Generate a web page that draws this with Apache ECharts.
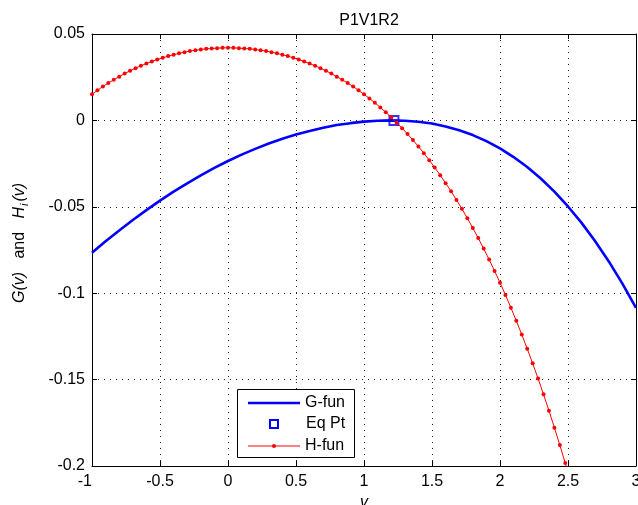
<!DOCTYPE html>
<html>
<head>
<meta charset="utf-8">
<script src="https://cdn.jsdelivr.net/npm/echarts@6/dist/echarts.min.js"></script>
<style>
  html, body { margin: 0; padding: 0; background: #fff; }
  #chart { width: 638px; height: 505px; }
</style>
</head>
<body>
<div id="chart"></div>
<script>
// G(v): smooth curve sampled every 0.1 in v
const gX = [-1.0, -0.9, -0.8, -0.7, -0.6, -0.5, -0.4, -0.3, -0.2, -0.1,
            0.0, 0.1, 0.2, 0.3, 0.4, 0.5, 0.6, 0.7, 0.8, 0.9,
            1.0, 1.1, 1.2, 1.3, 1.4, 1.5, 1.6, 1.7, 1.8, 1.9,
            2.0, 2.1, 2.2, 2.3, 2.4, 2.5, 2.6, 2.7, 2.8, 2.9, 3.0];
const gY = [-0.0766, -0.0700, -0.0637, -0.0576, -0.0519, -0.0464, -0.0412, -0.0364, -0.0318, -0.0275,
            -0.0235, -0.0198, -0.0165, -0.0134, -0.0106, -0.0082, -0.0061, -0.0042, -0.0027, -0.0016,
            -0.0007, -0.0002, 0.0000, -0.0002, -0.0008, -0.0018, -0.0035, -0.0057, -0.0085, -0.0120,
            -0.0162, -0.0212, -0.0270, -0.0336, -0.0412, -0.0498, -0.0593, -0.0699, -0.0816, -0.0945, -0.1085];

// H(v): sampled every 0.04 in v, one marker per sample
const hX = [-1.00, -0.96, -0.92, -0.88, -0.84, -0.80, -0.76, -0.72, -0.68, -0.64,
            -0.60, -0.56, -0.52, -0.48, -0.44, -0.40, -0.36, -0.32, -0.28, -0.24,
            -0.20, -0.16, -0.12, -0.08, -0.04, 0.00, 0.04, 0.08, 0.12, 0.16,
            0.20, 0.24, 0.28, 0.32, 0.36, 0.40, 0.44, 0.48, 0.52, 0.56,
            0.60, 0.64, 0.68, 0.72, 0.76, 0.80, 0.84, 0.88, 0.92, 0.96,
            1.00, 1.04, 1.08, 1.12, 1.16, 1.20, 1.24, 1.28, 1.32, 1.36,
            1.40, 1.44, 1.48, 1.52, 1.56, 1.60, 1.64, 1.68, 1.72, 1.76,
            1.80, 1.84, 1.88, 1.92, 1.96, 2.00, 2.04, 2.08, 2.12, 2.16,
            2.20, 2.24, 2.28, 2.32, 2.36, 2.40, 2.44, 2.48, 2.52];
const hY = [0.0151, 0.0174, 0.0196, 0.0216, 0.0235, 0.0253, 0.0271, 0.0287, 0.0302, 0.0316,
            0.0329, 0.0341, 0.0352, 0.0362, 0.0372, 0.0380, 0.0388, 0.0395, 0.0401, 0.0406,
            0.0410, 0.0414, 0.0416, 0.0418, 0.0420, 0.0420, 0.0420, 0.0418, 0.0416, 0.0414,
            0.0410, 0.0406, 0.0401, 0.0395, 0.0388, 0.0380, 0.0372, 0.0362, 0.0352, 0.0341,
            0.0329, 0.0316, 0.0302, 0.0287, 0.0271, 0.0253, 0.0235, 0.0216, 0.0196, 0.0174,
            0.0151, 0.0127, 0.0102, 0.0075, 0.0047, 0.0018, -0.0013, -0.0045, -0.0079, -0.0114,
            -0.0151, -0.0190, -0.0230, -0.0273, -0.0317, -0.0363, -0.0410, -0.0460, -0.0512, -0.0566,
            -0.0623, -0.0681, -0.0742, -0.0805, -0.0871, -0.0939, -0.1010, -0.1084, -0.1160, -0.1239,
            -0.1321, -0.1406, -0.1494, -0.1585, -0.1680, -0.1778, -0.1879, -0.1983, -0.2092];

// Equilibrium point
const eqX = [1.22];
const eqY = [0.0];

// Axis ranges and tick steps
const xRange = [-1, 3];
const xStep = 0.5;
const yRange = [-0.2, 0.05];
const yStep = 0.05;

const titleText = 'P1V1R2';
const legendNames = ['G-fun', 'Eq Pt', 'H-fun'];

const zip = (xs, ys) => xs.map((x, i) => [x, ys[i]]);

const FONT = '"Liberation Sans", Arial, Helvetica, sans-serif';
const BLUE = '#0000ff';
const RED = '#ff0000';

const dotted = { color: '#222', width: 1, type: [1, 5] };

function tickAxis(base, extra) {
  return Object.assign({
    type: 'value',
    axisLine: { show: true, onZero: false, lineStyle: { color: '#000', width: 1 } },
    axisTick: { show: true, inside: true, length: 5, lineStyle: { color: '#000', width: 1 } },
    splitLine: { show: false },
    axisLabel: { show: false }
  }, base, extra);
}

const xBase = { min: xRange[0], max: xRange[1], interval: xStep };
const yBase = { min: yRange[0], max: yRange[1], interval: yStep };

const chart = echarts.init(document.getElementById('chart'), null, { renderer: 'canvas' });

chart.setOption({
  backgroundColor: '#fff',
  animation: false,
  title: {
    text: titleText,
    left: 364,
    top: 8,
    textAlign: 'center',
    textStyle: { fontFamily: FONT, fontSize: 16, fontWeight: 'normal', color: '#000' }
  },
  grid: {
    left: 92, top: 34, width: 544, height: 432,
    containLabel: false, outerBoundsMode: 'none', show: false
  },
  xAxis: [
    tickAxis(xBase, {
      position: 'bottom',
      splitLine: { show: true, lineStyle: dotted },
      axisLabel: {
        show: true, margin: 8, color: '#000', fontFamily: FONT, fontSize: 16,
        showMinLabel: true, showMaxLabel: true, alignMinLabel: 'right'
      },
      name: 'v',
      nameLocation: 'middle',
      nameGap: 27,
      nameTextStyle: { fontFamily: FONT, fontSize: 16, fontStyle: 'italic', color: '#000' }
    }),
    tickAxis(xBase, { position: 'top' })
  ],
  yAxis: [
    tickAxis(yBase, {
      position: 'left',
      splitLine: { show: true, lineStyle: dotted },
      axisLabel: {
        show: true, margin: 7, color: '#000', fontFamily: FONT, fontSize: 16,
        showMinLabel: true, showMaxLabel: true
      },
      name: '{it|G(v)}{up|   and   }{it|H}{sub|i}{it|(v)}',
      nameLocation: 'middle',
      nameGap: 62,
      nameRotate: 90,
      nameTextStyle: {
        color: '#000',
        padding: [0, 0, 0, 14],
        rich: {
          it: { fontFamily: FONT, fontSize: 16, fontStyle: 'italic', color: '#000', lineHeight: 20 },
          up: { fontFamily: FONT, fontSize: 16, color: '#000', lineHeight: 20 },
          sub: { fontFamily: FONT, fontSize: 11, fontStyle: 'italic', color: '#000',
                 lineHeight: 20, verticalAlign: 'bottom', padding: [6, 2, 0, 1] }
        }
      }
    }),
    tickAxis(yBase, { position: 'right' })
  ],
  series: [
    {
      name: legendNames[0],
      type: 'line',
      data: zip(gX, gY),
      showSymbol: false,
      symbol: 'none',
      clip: true,
      lineStyle: { color: BLUE, width: 2.6 },
      z: 2
    },
    {
      name: legendNames[1],
      type: 'scatter',
      data: zip(eqX, eqY),
      symbol: 'rect',
      symbolSize: 9,
      itemStyle: { color: 'rgba(0,0,0,0)', borderColor: BLUE, borderWidth: 2 },
      z: 3
    },
    {
      name: legendNames[2],
      type: 'line',
      data: zip(hX, hY),
      symbol: 'circle',
      symbolSize: 4,
      showAllSymbol: true,
      clip: true,
      itemStyle: { color: RED, borderWidth: 0 },
      lineStyle: { color: RED, width: 1 },
      z: 4
    }
  ],
  graphic: {
    elements: [
      { type: 'rect', z: 100, shape: { x: 237.5, y: 389.5, width: 117, height: 68 },
        style: { fill: '#fff', stroke: '#000', lineWidth: 1 } },
      { type: 'line', z: 101, shape: { x1: 248, y1: 403, x2: 300, y2: 403 },
        style: { stroke: BLUE, lineWidth: 2.6 } },
      { type: 'rect', z: 101, shape: { x: 270, y: 420, width: 8, height: 8 },
        style: { fill: 'none', stroke: BLUE, lineWidth: 2 } },
      { type: 'line', z: 101, shape: { x1: 248, y1: 446, x2: 300, y2: 446 },
        style: { stroke: RED, lineWidth: 1 } },
      { type: 'circle', z: 102, shape: { cx: 274, cy: 446, r: 2 },
        style: { fill: RED } },
      { type: 'text', z: 101, x: 305, y: 403,
        style: { text: legendNames[0], font: '16px ' + FONT, fill: '#000', verticalAlign: 'middle' } },
      { type: 'text', z: 101, x: 306, y: 424,
        style: { text: legendNames[1], font: '16px ' + FONT, fill: '#000', verticalAlign: 'middle' } },
      { type: 'text', z: 101, x: 305, y: 446,
        style: { text: legendNames[2], font: '16px ' + FONT, fill: '#000', verticalAlign: 'middle' } }
    ]
  }
});
</script>
</body>
</html>
